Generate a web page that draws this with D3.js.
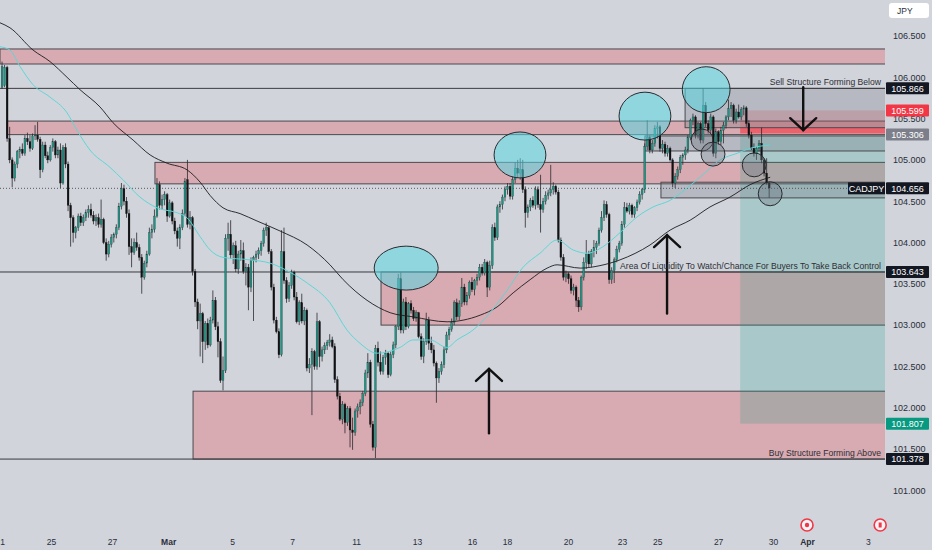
<!DOCTYPE html>
<html>
<head>
<meta charset="utf-8">
<script src="https://cdn.jsdelivr.net/npm/d3@7"></script>
<style>
  html, body { margin: 0; padding: 0; background: #d1d4db; }
  svg { display: block; font-family: "Liberation Sans", Arial, sans-serif; }
</style>
</head>
<body>
<svg id="chart" width="932" height="550"></svg>
<script>
// CADJPY 2H candles, [open, high, low, close]
const candles = [
  [105.88,106.19,105.86,106.13],[105.90,106.15,105.88,106.12],[106.12,106.14,105.22,105.26],[105.26,105.40,104.96,105.00],[105.00,105.03,104.67,104.78],
  [104.78,104.98,104.74,104.95],[104.95,105.12,104.90,105.10],[105.10,105.16,105.02,105.13],[105.13,105.20,105.05,105.08],[105.08,105.30,105.05,105.26],
  [105.26,105.33,105.18,105.22],[105.22,105.30,105.10,105.14],[105.14,105.32,105.12,105.29],[105.29,105.42,105.24,105.30],[105.30,105.46,105.22,105.25],
  [105.25,105.28,104.78,104.88],[104.88,105.22,104.85,105.18],[105.18,105.22,105.02,105.05],[105.05,105.10,104.96,105.00],[105.00,105.18,104.98,105.15],
  [105.15,105.26,105.10,105.22],[105.22,105.24,105.02,105.06],[105.06,105.16,105.02,105.12],[105.12,105.20,104.66,104.72],[104.72,105.18,104.70,105.15],
  [105.15,105.20,104.90,104.95],[104.95,104.98,104.38,104.45],[104.45,104.48,103.95,104.30],[104.30,104.33,104.00,104.12],[104.12,104.20,104.05,104.18],
  [104.18,104.35,104.14,104.32],[104.32,104.36,104.20,104.24],[104.24,104.34,104.20,104.30],[104.30,104.40,104.26,104.36],[104.36,104.45,104.30,104.40],
  [104.40,104.47,104.30,104.33],[104.33,104.38,104.22,104.26],[104.26,104.34,104.20,104.30],[104.30,104.35,104.18,104.22],[104.22,104.52,104.18,104.28],
  [104.28,104.30,103.98,104.00],[104.00,104.05,103.78,103.86],[103.86,104.02,103.82,103.98],[103.98,104.10,103.94,104.06],[104.06,104.12,104.00,104.10],
  [104.10,104.22,104.05,104.18],[104.18,104.48,104.15,104.44],[104.44,104.72,104.40,104.65],[104.65,104.70,104.45,104.50],[104.50,104.55,104.30,104.35],
  [104.35,104.40,103.85,103.95],[103.95,104.05,103.70,103.88],[103.88,104.05,103.85,104.00],[104.00,104.12,103.90,103.94],[103.94,103.98,103.78,103.82],
  [103.82,103.86,103.38,103.58],[103.58,103.78,103.55,103.75],[103.75,103.90,103.70,103.86],[103.86,104.18,103.84,104.12],[104.12,104.22,104.05,104.16],
  [104.16,104.40,104.12,104.32],[104.32,104.78,104.30,104.70],[104.70,104.74,104.40,104.45],[104.45,104.58,104.40,104.52],[104.52,104.62,104.45,104.58],
  [104.58,104.60,104.25,104.32],[104.32,104.52,104.30,104.48],[104.48,104.50,104.22,104.26],[104.26,104.30,104.10,104.14],[104.14,104.18,103.95,104.05],
  [104.05,104.22,103.92,104.18],[104.18,104.40,104.15,104.35],[104.35,104.78,104.32,104.74],[104.76,105.00,104.18,104.22],[104.22,104.38,104.16,104.30],
  [104.30,104.32,103.60,103.65],[103.65,103.68,103.22,103.28],[103.28,103.32,102.95,103.05],[103.05,103.26,102.62,103.14],[103.14,103.16,102.54,102.80],
  [102.80,103.05,102.70,103.02],[103.02,103.08,102.72,102.76],[102.76,103.10,102.74,103.06],[103.06,103.42,103.02,103.30],[103.30,103.34,102.94,102.98],
  [102.98,103.04,102.61,102.80],[102.80,102.84,102.30,102.33],[102.33,102.62,102.21,102.45],[102.45,104.10,102.42,104.05],[104.05,104.24,103.90,104.10],
  [104.10,104.27,103.80,103.85],[103.85,104.00,103.74,103.96],[103.96,104.02,103.64,103.68],[103.68,103.90,103.62,103.86],[103.86,104.03,103.78,103.90],
  [103.90,104.00,103.62,103.65],[103.65,103.75,103.48,103.70],[103.70,103.74,103.18,103.46],[103.46,103.82,103.40,103.78],[103.78,103.84,103.05,103.82],
  [103.82,103.90,103.76,103.86],[103.86,103.94,103.80,103.90],[103.90,104.02,103.84,103.99],[103.99,104.18,103.95,104.15],[104.15,104.24,104.08,104.18],
  [104.18,104.20,103.86,103.89],[103.89,103.92,103.42,103.46],[103.46,103.50,103.02,103.06],[103.06,103.10,102.90,102.92],[102.92,102.96,102.60,102.64],
  [102.64,104.15,102.62,103.89],[103.89,104.18,103.50,103.54],[103.54,103.58,103.27,103.32],[103.32,103.52,103.28,103.48],[103.48,103.67,103.44,103.64],
  [103.64,103.66,103.30,103.34],[103.34,103.40,103.02,103.04],[103.04,103.30,103.00,103.27],[103.27,103.38,103.02,103.05],[103.05,103.22,103.00,103.18],
  [103.18,103.20,102.44,102.48],[102.48,102.60,102.42,102.52],[102.52,102.72,101.91,102.68],[102.68,102.70,102.46,102.50],[102.50,103.15,102.46,103.04],
  [103.04,103.06,102.49,102.62],[102.62,102.74,102.56,102.70],[102.70,102.79,102.65,102.75],[102.75,102.82,102.70,102.79],[102.79,102.89,102.74,102.82],
  [102.82,102.86,102.72,102.74],[102.74,102.78,102.30,102.34],[102.34,102.38,102.10,102.14],[102.14,102.18,101.84,101.86],[101.86,102.08,101.80,102.04],
  [102.04,102.06,101.69,101.82],[101.82,102.02,101.78,101.99],[101.99,102.02,101.52,101.73],[101.73,101.88,101.49,101.70],[101.70,101.99,101.66,101.96],
  [101.96,102.05,101.88,102.01],[102.01,102.10,101.92,102.06],[102.06,102.20,102.02,102.17],[102.17,102.46,102.14,102.42],[102.42,102.66,102.36,102.55],
  [102.55,102.58,101.76,101.80],[101.80,101.84,101.48,101.52],[101.52,102.76,101.39,102.72],[102.72,102.80,102.50,102.55],[102.55,102.68,102.40,102.44],
  [102.44,102.64,102.40,102.61],[102.61,102.70,102.52,102.66],[102.66,102.68,102.36,102.40],[102.40,102.68,102.38,102.64],[102.64,102.80,102.60,102.76],
  [102.76,103.00,102.72,102.98],[102.98,103.62,102.94,103.56],[103.56,103.64,102.90,102.94],[102.94,103.32,102.90,103.28],[103.28,103.34,102.94,102.98],
  [102.98,103.28,102.96,103.26],[103.26,103.30,103.14,103.18],[103.18,103.22,103.05,103.08],[103.08,103.18,103.04,103.15],[103.15,103.16,102.84,102.86],
  [102.86,102.90,102.58,102.62],[102.62,102.84,102.54,102.80],[102.80,103.15,102.76,103.06],[103.06,103.10,102.70,102.78],[102.78,102.86,102.66,102.70],
  [102.70,102.76,102.50,102.54],[102.54,102.56,102.06,102.36],[102.36,102.48,102.30,102.44],[102.44,102.56,102.40,102.52],[102.52,102.74,102.48,102.70],
  [102.70,102.92,102.66,102.88],[102.88,102.98,102.82,102.95],[102.95,103.08,102.92,103.03],[103.03,103.30,103.00,103.27],[103.27,103.32,103.06,103.10],
  [103.10,103.30,103.06,103.26],[103.26,103.57,103.22,103.46],[103.46,103.50,103.24,103.28],[103.28,103.40,103.24,103.36],[103.36,103.54,103.32,103.52],
  [103.52,103.58,103.40,103.43],[103.43,103.56,103.36,103.54],[103.54,103.62,103.48,103.58],[103.58,103.74,103.54,103.70],[103.70,103.74,103.60,103.63],
  [103.63,103.80,103.60,103.76],[103.76,103.78,103.34,103.46],[103.46,103.78,103.42,103.72],[103.72,104.22,103.68,104.18],[104.18,104.24,104.02,104.06],
  [104.06,104.46,104.03,104.43],[104.43,104.50,104.36,104.46],[104.46,104.58,104.40,104.55],[104.55,104.68,104.50,104.64],[104.64,104.72,104.58,104.68],
  [104.68,104.72,104.52,104.56],[104.56,104.80,104.52,104.76],[104.76,104.97,104.72,104.90],[104.90,105.00,104.78,104.84],[104.84,105.02,104.76,104.88],
  [104.88,105.00,104.60,104.64],[104.64,104.68,104.18,104.36],[104.36,104.46,104.30,104.43],[104.43,104.54,104.38,104.51],[104.51,104.56,104.42,104.45],
  [104.45,104.68,104.40,104.64],[104.64,104.68,104.42,104.46],[104.46,104.82,104.12,104.40],[104.40,104.54,104.36,104.50],[104.50,104.62,104.46,104.57],
  [104.57,104.64,104.52,104.60],[104.60,104.94,104.56,104.64],[104.64,104.73,104.58,104.68],[104.68,104.70,104.58,104.61],[104.61,104.64,104.00,104.03],
  [104.03,104.06,103.78,103.82],[103.82,103.86,103.54,103.58],[103.58,103.66,103.52,103.62],[103.62,103.64,103.50,103.56],[103.56,103.60,103.38,103.42],
  [103.42,103.50,103.36,103.46],[103.46,103.48,103.22,103.30],[103.30,103.34,103.16,103.22],[103.22,103.60,103.18,103.58],[103.58,103.82,103.54,103.76],
  [103.76,104.03,103.68,103.86],[103.86,103.90,103.70,103.74],[103.74,103.92,103.70,103.89],[103.89,104.03,103.82,103.94],[103.94,104.02,103.86,103.99],
  [103.99,104.18,103.96,104.15],[104.15,104.38,104.12,104.30],[104.30,104.51,104.26,104.46],[104.46,104.50,104.30,104.34],[104.34,104.36,103.50,103.55],
  [103.55,103.70,103.50,103.66],[103.66,103.82,103.51,103.79],[103.79,103.96,103.76,103.92],[103.92,104.02,103.88,103.99],[103.99,104.26,103.96,104.22],
  [104.22,104.49,104.18,104.42],[104.42,104.48,104.36,104.38],[104.38,104.48,104.34,104.45],[104.45,104.47,104.30,104.34],[104.34,104.44,104.30,104.42],
  [104.42,104.52,104.38,104.49],[104.49,104.62,104.46,104.58],[104.58,104.66,104.52,104.64],[104.64,105.20,104.60,105.16],[105.16,105.48,105.12,105.27],
  [105.27,105.30,105.08,105.12],[105.12,105.24,105.08,105.20],[105.20,105.42,105.16,105.38],[105.38,105.46,105.26,105.40],[105.40,105.42,105.10,105.14],
  [105.14,105.24,105.08,105.19],[105.19,105.22,105.04,105.08],[105.08,105.18,105.04,105.14],[105.14,105.16,104.98,105.00],[105.00,105.02,104.67,104.72],
  [104.72,104.84,104.66,104.80],[104.80,104.92,104.76,104.88],[104.88,105.06,104.84,105.03],[105.03,105.08,104.94,105.06],[105.06,105.16,105.00,105.12],
  [105.12,105.30,105.08,105.27],[105.27,105.50,105.24,105.48],[105.48,105.56,105.42,105.52],[105.52,105.54,105.26,105.30],[105.30,105.46,105.26,105.44],
  [105.44,105.46,105.20,105.24],[105.24,105.87,105.20,105.66],[105.66,105.70,105.40,105.44],[105.44,105.48,105.32,105.36],[105.36,105.56,105.32,105.52],
  [105.52,105.54,105.04,105.08],[105.08,105.38,105.02,105.34],[105.34,105.36,105.18,105.22],[105.22,105.40,105.18,105.36],[105.36,105.46,105.20,105.42],
  [105.42,105.54,105.38,105.52],[105.52,105.73,105.48,105.62],[105.62,105.70,105.52,105.66],[105.66,105.68,105.44,105.48],[105.48,105.62,105.44,105.58],
  [105.58,105.67,105.50,105.52],[105.52,105.64,105.48,105.61],[105.61,105.66,105.54,105.63],[105.63,105.65,105.40,105.44],[105.44,105.48,105.26,105.30],
  [105.30,105.34,105.12,105.14],[105.14,105.20,105.04,105.08],[105.08,105.16,105.00,105.14],[105.14,105.24,105.10,105.20],[105.20,105.39,104.96,105.00],
  [105.00,105.02,104.80,104.84],[104.84,105.02,104.70,104.72],[104.72,104.74,104.54,104.66]
];

// moving averages: [candle index, price]
const slowMA = [
  [-0.8,106.66],[3.1,106.60],[12.2,106.33],[18.9,106.19],[25.6,106.00],[30.7,105.85],[38.6,105.64],[43.7,105.45],
  [51.6,105.24],[58.3,105.06],[65.0,104.96],[72.8,104.88],[78.0,104.73],[81.9,104.57],[87.0,104.42],[93.7,104.35],
  [100.4,104.26],[109.4,104.14],[120.1,103.97],[129.1,103.73],[134.3,103.55],[143.7,103.30],[152.8,103.15],[161.8,103.10],
  [175.2,103.04],[181.5,103.06],[188.2,103.12],[194.9,103.22],[201.2,103.39],[207.9,103.55],[214.6,103.69],[218.5,103.73],
  [227.6,103.69],[235.4,103.72],[243.3,103.79],[255.1,103.97],[263.0,104.15],[270.9,104.27],[278.7,104.43],[286.6,104.55],
  [294.5,104.70],[302.4,104.79]
];
const fastMA = [
  [-0.8,106.37],[3.1,106.33],[7.1,106.13],[12.2,105.91],[18.9,105.76],[25.6,105.57],[29.5,105.36],[34.6,105.12],
  [42.5,104.91],[47.6,104.76],[54.3,104.55],[61.0,104.42],[68.9,104.36],[72.8,104.30],[78.0,104.07],[81.9,103.91],
  [87.0,103.82],[97.6,103.79],[105.5,103.75],[113.4,103.64],[120.1,103.51],[129.1,103.27],[135.8,102.94],[140.9,102.78],
  [147.6,102.66],[156.7,102.73],[161.8,102.82],[168.5,102.82],[175.2,102.73],[179.1,102.82],[185.4,102.94],[192.1,103.15],
  [198.8,103.42],[205.1,103.70],[211.8,103.87],[218.5,104.03],[224.8,103.91],[230.3,103.87],[236.6,103.95],[243.3,104.12],
  [250.0,104.31],[256.3,104.43],[263.0,104.51],[269.7,104.66],[275.9,104.82],[282.7,105.00],[289.4,105.08],[294.5,105.14],
  [302.4,105.18]
];

const priceTicks = [101, 101.5, 102, 102.5, 103, 103.5, 104, 104.5, 105, 105.5, 106, 106.5];
const dateTicks = [0, 19.3, 43.3, 65.4, 90.6, 114.2, 139.4, 163.4, 185, 198.8, 222.8, 244.1, 257.9, 281.9, 303.5, 316.9, 340.9];
const dateLabels = ["1", "25", "27", "Mar", "5", "7", "11", "13", "16", "18", "20", "23", "25", "27", "30", "Apr", "3"];

// supply / demand zones: start candle, top and bottom price
const zones = [
  { start: -0.8, top: 106.343, bottom: 106.161 },
  { start: 1.97, top: 105.47, bottom: 105.306 },
  { start: 60.2, top: 104.97, bottom: 104.71 },
  { start: 149.2, top: 103.643, bottom: 103.0 },
  { start: 75.2, top: 102.20, bottom: 101.378 }
];
const greyBoxes = [
  { start: 268.9, top: 105.866, bottom: 105.39 },
  { start: 253.1, top: 105.29, bottom: 105.108 },
  { start: 259.4, top: 104.73, bottom: 104.54 }
];
const levels = [105.866, 103.643, 101.378];
const lastPrice = 104.656;
const position = { start: 290.6, entry: 105.306, stop: 105.599, target: 101.807 };
const stopHighlight = { start: 290.6, top: 105.39, bottom: 105.325 };

const bigCircles = [
  { idx: 159.1, price: 103.69, rx: 12.6, ry: 0.266 },
  { idx: 203.9, price: 105.06, rx: 10.2, ry: 0.278 },
  { idx: 253.1, price: 105.53, rx: 10.2, ry: 0.29 },
  { idx: 277.2, price: 105.85, rx: 9.4, ry: 0.278 }
];
const smallCircles = [
  { idx: 275.6, price: 105.24, rx: 4.3, ry: 0.133 },
  { idx: 279.9, price: 105.07, rx: 4.7, ry: 0.145 },
  { idx: 296.1, price: 104.94, rx: 4.7, ry: 0.145 },
  { idx: 302.4, price: 104.59, rx: 4.7, ry: 0.145 }
];
const arrows = [
  { idx: 315.4, from: 105.88, to: 105.36 },
  { idx: 261.8, from: 103.14, to: 104.09 },
  { idx: 191.7, from: 101.69, to: 102.47 }
];
const notes = [
  { text: "Sell Structure Forming Below", level: 105.866 },
  { text: "Area Of Liquidity To Watch/Chance For Buyers To Take Back Control", level: 103.643 },
  { text: "Buy Structure Forming Above", level: 101.378 }
];
const tags = [
  { value: 105.866, color: "#131722" },
  { value: 105.599, color: "#f23645" },
  { value: 105.306, color: "#7c7f89" },
  { value: 104.656, color: "#131722" },
  { value: 103.643, color: "#131722" },
  { value: 101.807, color: "#089981" },
  { value: 101.378, color: "#131722" }
];
const eventMarks = [316.9, 345.7];

const W = 932, H = 550, plotR = 885;
const x = d3.scaleLinear().domain([-0.8, 347.6]).range([0, plotR]);
const y = d3.scaleLinear().domain([101, 106.5]).range([490.3, 36]);
const step = x(1) - x(0);

const svg = d3.select("#chart");
svg.append("rect").attr("width", W).attr("height", H).attr("fill", "#d1d4db");
svg.append("defs").append("clipPath").attr("id", "plot")
  .append("rect").attr("width", plotR).attr("height", 515);
const plot = svg.append("g").attr("clip-path", "url(#plot)");

// pink zones
plot.selectAll(".zone").data(zones).enter().append("rect")
  .attr("x", d => x(d.start))
  .attr("y", d => y(d.top))
  .attr("width", d => plotR + 2 - x(d.start))
  .attr("height", d => y(d.bottom) - y(d.top))
  .attr("fill", "rgba(235,60,70,0.28)")
  .attr("stroke", "#4a4a4f").attr("stroke-width", 1);

// short position tool
plot.append("rect")
  .attr("x", x(position.start)).attr("y", y(position.entry))
  .attr("width", plotR + 2 - x(position.start))
  .attr("height", y(position.target) - y(position.entry))
  .attr("fill", "rgba(8,153,129,0.2)");
plot.append("rect")
  .attr("x", x(position.start)).attr("y", y(position.stop))
  .attr("width", plotR + 2 - x(position.start))
  .attr("height", y(position.entry) - y(position.stop))
  .attr("fill", "rgba(242,54,69,0.22)");
plot.append("rect")
  .attr("x", x(stopHighlight.start)).attr("y", y(stopHighlight.top))
  .attr("width", plotR + 2 - x(stopHighlight.start))
  .attr("height", y(stopHighlight.bottom) - y(stopHighlight.top))
  .attr("fill", "rgba(245,60,72,0.55)");

// grey boxes
plot.selectAll(".gbox").data(greyBoxes).enter().append("rect")
  .attr("x", d => x(d.start))
  .attr("y", d => y(d.top))
  .attr("width", d => plotR + 2 - x(d.start))
  .attr("height", d => y(d.bottom) - y(d.top))
  .attr("fill", "rgba(110,115,125,0.28)")
  .attr("stroke", "#4a4a4f").attr("stroke-width", 1);

// horizontal levels
plot.selectAll(".lvl").data(levels).enter().append("line")
  .attr("x1", 0).attr("x2", plotR)
  .attr("y1", d => y(d)).attr("y2", d => y(d))
  .attr("stroke", "#3a3a3f").attr("stroke-width", 1);
plot.append("line")
  .attr("x1", 0).attr("x2", plotR)
  .attr("y1", y(lastPrice)).attr("y2", y(lastPrice))
  .attr("stroke", "#3a3a3f").attr("stroke-width", 0.8)
  .attr("stroke-dasharray", "1,2");

// candles
const cg = plot.append("g");
cg.selectAll(".wick").data(candles).enter().append("line")
  .attr("x1", (d, i) => x(i)).attr("x2", (d, i) => x(i))
  .attr("y1", d => y(d[1])).attr("y2", d => y(d[2]))
  .attr("stroke", "#2b2b2e").attr("stroke-width", 0.8);
cg.selectAll(".body").data(candles).enter().append("rect")
  .attr("x", (d, i) => x(i) - step * 0.36)
  .attr("width", step * 0.72)
  .attr("y", d => y(Math.max(d[0], d[3])))
  .attr("height", d => Math.max(0.8, Math.abs(y(d[0]) - y(d[3]))))
  .attr("fill", d => d[3] >= d[0] ? "#1f9384" : "#111214")
  .attr("stroke", d => d[3] >= d[0] ? "#24403d" : "#111214")
  .attr("stroke-width", 0.3);

// moving averages
const maLine = d3.line().x(d => x(d[0])).y(d => y(d[1])).curve(d3.curveMonotoneX);
plot.append("path").datum(slowMA).attr("d", maLine)
  .attr("fill", "none").attr("stroke", "#1c1c1f").attr("stroke-width", 0.9);
plot.append("path").datum(fastMA).attr("d", maLine)
  .attr("fill", "none").attr("stroke", "#5fd6d6").attr("stroke-width", 1);

// circles
plot.selectAll(".big").data(bigCircles).enter().append("ellipse")
  .attr("cx", d => x(d.idx)).attr("cy", d => y(d.price))
  .attr("rx", d => x(d.idx + d.rx) - x(d.idx))
  .attr("ry", d => y(d.price - d.ry) - y(d.price))
  .attr("fill", "rgba(90,215,225,0.55)")
  .attr("stroke", "#2a2a2e").attr("stroke-width", 1);
plot.selectAll(".small").data(smallCircles).enter().append("ellipse")
  .attr("cx", d => x(d.idx)).attr("cy", d => y(d.price))
  .attr("rx", d => x(d.idx + d.rx) - x(d.idx))
  .attr("ry", d => y(d.price - d.ry) - y(d.price))
  .attr("fill", "rgba(110,118,128,0.35)")
  .attr("stroke", "#2a2a2e").attr("stroke-width", 1);

// arrows
const ag = plot.append("g").attr("stroke", "#111").attr("stroke-width", 2.4)
  .attr("fill", "none").attr("stroke-linecap", "round");
arrows.forEach(a => {
  const ax = x(a.idx), tip = y(a.to), base = y(a.from);
  const dir = tip > base ? 1 : -1;
  ag.append("line").attr("x1", ax).attr("x2", ax).attr("y1", base).attr("y2", tip);
  ag.append("path").attr("d", `M${ax - 13},${tip - dir * 12}L${ax},${tip}L${ax + 13},${tip - dir * 12}`);
});

// notes
plot.selectAll(".note").data(notes).enter().append("text")
  .attr("x", plotR - 4).attr("y", d => y(d.level) - 3)
  .attr("text-anchor", "end")
  .attr("font-size", 8.6).attr("fill", "#2e2f35")
  .text(d => d.text);

// right price axis
const yAxis = d3.axisRight(y).tickValues(priceTicks)
  .tickFormat(d3.format(".3f")).tickSize(0).tickPadding(0);
svg.append("g").attr("transform", "translate(893,0)")
  .call(yAxis)
  .call(g => g.select(".domain").remove())
  .attr("font-family", "Liberation Sans, Arial, sans-serif")
  .attr("font-size", 9)
  .selectAll("text").attr("fill", "#2a2e39");

// bottom date axis
const xAxis = d3.axisBottom(x).tickValues(dateTicks)
  .tickFormat((d, i) => dateLabels[i]).tickSize(0).tickPadding(0);
svg.append("g").attr("transform", "translate(0,539)")
  .call(xAxis)
  .call(g => g.select(".domain").remove())
  .attr("font-family", "Liberation Sans, Arial, sans-serif")
  .attr("font-size", 8.5)
  .selectAll("text")
  .attr("fill", "#2a2e39")
  .attr("font-weight", (d, i) => (dateLabels[i] === "Mar" || dateLabels[i] === "Apr") ? "bold" : "normal");

// event markers
eventMarks.forEach((m, i) => {
  const g = svg.append("g").attr("transform", `translate(${x(m)},525)`);
  g.append("circle").attr("r", 6).attr("fill", "#f4f4f6")
    .attr("stroke", "#f23645").attr("stroke-width", 1.6);
  if (i === 0) g.append("circle").attr("r", 2.2).attr("fill", "#f23645");
  else g.append("rect").attr("x", -1.5).attr("y", -2.5).attr("width", 3).attr("height", 5).attr("fill", "#f23645");
});

// price tags
const tg = svg.append("g").attr("font-family", "Liberation Sans, Arial, sans-serif").attr("font-size", 9);
tags.forEach(t => {
  tg.append("rect").attr("x", 886).attr("y", y(t.value) - 6).attr("width", 43).attr("height", 12)
    .attr("rx", 1).attr("fill", t.color);
  tg.append("text").attr("x", 907.5).attr("y", y(t.value) + 3.2).attr("text-anchor", "middle")
    .attr("fill", "#fff").text(d3.format(".3f")(t.value));
});
tg.append("rect").attr("x", 848).attr("y", y(lastPrice) - 6).attr("width", 37).attr("height", 12).attr("fill", "#131722");
tg.append("text").attr("x", 866.5).attr("y", y(lastPrice) + 3.2).attr("text-anchor", "middle")
  .attr("fill", "#fff").text("CADJPY");

// currency box
svg.append("rect").attr("x", 889).attr("y", 3).attr("width", 40).attr("height", 15).attr("rx", 3).attr("fill", "#ffffff");
svg.append("text").attr("x", 897).attr("y", 13.5).attr("font-size", 8.5).attr("fill", "#2a2e39").text("JPY");
</script>
</body>
</html>
